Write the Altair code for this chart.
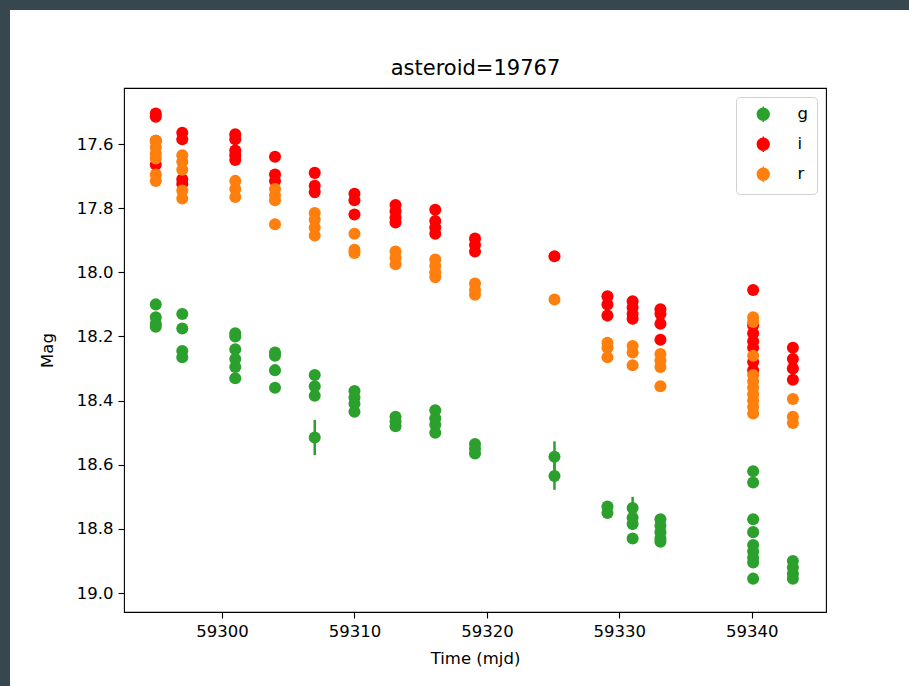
import altair as alt
import pandas as pd

# ---------------- data ----------------
bands = ["g", "i", "r"]
band_colors = ["#2ca02c", "#ff0000", "#ff7f0e"]

days = [59295.0, 59297.0, 59301.0, 59304.0, 59307.0, 59310.0, 59313.1, 59316.1,
        59319.1, 59325.1, 59329.1, 59331.0, 59333.1, 59340.1, 59343.1]

g_mags = [
    [18.10, 18.14, 18.16, 18.17],
    [18.13, 18.175, 18.245, 18.265],
    [18.19, 18.20, 18.24, 18.27, 18.295, 18.33],
    [18.25, 18.26, 18.305, 18.36],
    [18.32, 18.355, 18.385, 18.515],
    [18.37, 18.39, 18.41, 18.435],
    [18.45, 18.465, 18.48],
    [18.43, 18.455, 18.475, 18.50],
    [18.535, 18.55, 18.565],
    [18.575, 18.635],
    [18.73, 18.75],
    [18.735, 18.765, 18.785, 18.83],
    [18.77, 18.79, 18.81, 18.83, 18.84],
    [18.62, 18.655, 18.77, 18.81, 18.85, 18.87, 18.89, 18.905, 18.955],
    [18.90, 18.92, 18.94, 18.955],
]
i_mags = [
    [17.505, 17.515, 17.59, 17.665],
    [17.565, 17.585, 17.71, 17.725],
    [17.57, 17.585, 17.62, 17.635, 17.65],
    [17.64, 17.695, 17.715],
    [17.69, 17.73, 17.75],
    [17.755, 17.775, 17.82],
    [17.79, 17.81, 17.83, 17.845],
    [17.805, 17.84, 17.86, 17.88],
    [17.895, 17.915, 17.935],
    [17.95],
    [18.075, 18.10, 18.135],
    [18.09, 18.11, 18.13, 18.145],
    [18.115, 18.13, 18.16, 18.21],
    [18.055, 18.165, 18.19, 18.215, 18.235, 18.28, 18.305],
    [18.235, 18.27, 18.30, 18.335],
]
r_mags = [
    [17.59, 17.61, 17.63, 17.645, 17.695, 17.715],
    [17.635, 17.655, 17.68, 17.745, 17.77],
    [17.715, 17.74, 17.765],
    [17.74, 17.76, 17.775, 17.85],
    [17.815, 17.835, 17.86, 17.885],
    [17.88, 17.93, 17.94],
    [17.935, 17.955, 17.975],
    [17.96, 17.98, 18.00, 18.015],
    [18.035, 18.055, 18.07],
    [18.085],
    [18.22, 18.235, 18.265],
    [18.23, 18.25, 18.29],
    [18.255, 18.275, 18.295, 18.355],
    [18.14, 18.155, 18.26, 18.32, 18.34, 18.36, 18.38, 18.40, 18.42, 18.44],
    [18.395, 18.45, 18.47],
]
default_err = {"g": 0.015, "i": 0.01, "r": 0.01}
# (band, day, mag) -> larger visible errors
big_err = {
    ("g", 59307.0, 18.515): 0.055,
    ("g", 59325.1, 18.575): 0.048,
    ("g", 59325.1, 18.635): 0.043,
    ("g", 59331.0, 18.735): 0.035,
}

x_ticks = [59300, 59310, 59320, 59330, 59340]
y_ticks = [17.6, 17.8, 18.0, 18.2, 18.4, 18.6, 18.8, 19.0]
x_domain = [59292.6, 59345.6]
y_domain = [17.4254, 19.059]

# ---------------- table ----------------
rows = []
for band, color, mags in zip(bands, band_colors, [g_mags, i_mags, r_mags]):
    for d, col in zip(days, mags):
        for m in col:
            e = big_err.get((band, d, m), default_err[band])
            rows.append({"mjd": d, "mag": m, "lo": m - e, "hi": m + e,
                         "band": band, "hex": color})
df = pd.DataFrame(rows)

FONT = "DejaVu Sans"
DARK = "#37474f"

xscale = alt.Scale(domain=x_domain, nice=False, zero=False)
yscale = alt.Scale(domain=y_domain, nice=False, zero=False, reverse=True)
cscale = alt.Scale(domain=bands, range=band_colors)

yaxis = alt.Axis(values=y_ticks, format=".1f", title="Mag", grid=False,
                 domain=False, tickSize=6, labelPadding=5, titlePadding=21)
xaxis_bottom = alt.Axis(values=x_ticks, format="d", title="Time (mjd)", grid=False,
                        domain=False, tickSize=6, labelPadding=5, titlePadding=11)
xaxis_top = alt.Axis(orient="top", title="asteroid=19767", labels=False, ticks=False,
                     domain=False, grid=False, titleFontSize=21, titlePadding=10,
                     minExtent=0)

legend_symbol = ("M-1,0A1,1 0 1,0 1,0A1,1 0 1,0 -1,0Z M0,-1.3L0,1.3")
leg = alt.Legend(title=None, orient="top-right", offset=9, fillColor="white",
                 strokeColor="#d0d0d0", cornerRadius=4, padding=9,
                 symbolOffset=10, labelOffset=26, rowPadding=8,
                 symbolType=legend_symbol, symbolSize=140, symbolStrokeWidth=1.5,
                 symbolOpacity=1, labelFontSize=16.5, labelFont=FONT,
                 labelColor="black")

base = alt.Chart(df)

rules = base.mark_rule(strokeWidth=2.5).encode(
    x=alt.X("mjd:Q", scale=xscale, axis=xaxis_top),
    y=alt.Y("lo:Q", scale=yscale, axis=yaxis),
    y2="hi:Q",
    color=alt.Color("hex:N", scale=None),
)

points = base.mark_point(filled=True, size=145, opacity=1, strokeWidth=0).encode(
    x=alt.X("mjd:Q", scale=xscale, axis=xaxis_bottom),
    y=alt.Y("mag:Q", scale=yscale, axis=yaxis),
    color=alt.Color("band:N", scale=cscale, legend=leg),
    stroke=alt.Stroke("band:N", scale=cscale, legend=leg),
)

one = alt.Data(values=[{}])
strip_top = alt.Chart(one).mark_rect(color=DARK).encode(
    x=alt.value(-124), x2=alt.value(785), y=alt.value(-88), y2=alt.value(-78))
strip_left = alt.Chart(one).mark_rect(color=DARK).encode(
    x=alt.value(-124), x2=alt.value(-114), y=alt.value(-88), y2=alt.value(598))

chart = (
    alt.layer(strip_top, strip_left, rules, points)
    .resolve_axis(x="independent")
    .properties(width=702, height=524, padding=0, background="white")
    .configure_view(stroke="black", strokeWidth=1.1)
    .configure_axis(labelFont=FONT, titleFont=FONT, labelFontSize=16.5,
                    titleFontSize=16.5, labelColor="black", titleColor="black",
                    titleFontWeight="normal", tickColor="black", tickWidth=1.1,
                    labelFlush=False, labelOverlap=False)
)

chart.save("out.html", embed_options={"renderer": "svg", "actions": False})
